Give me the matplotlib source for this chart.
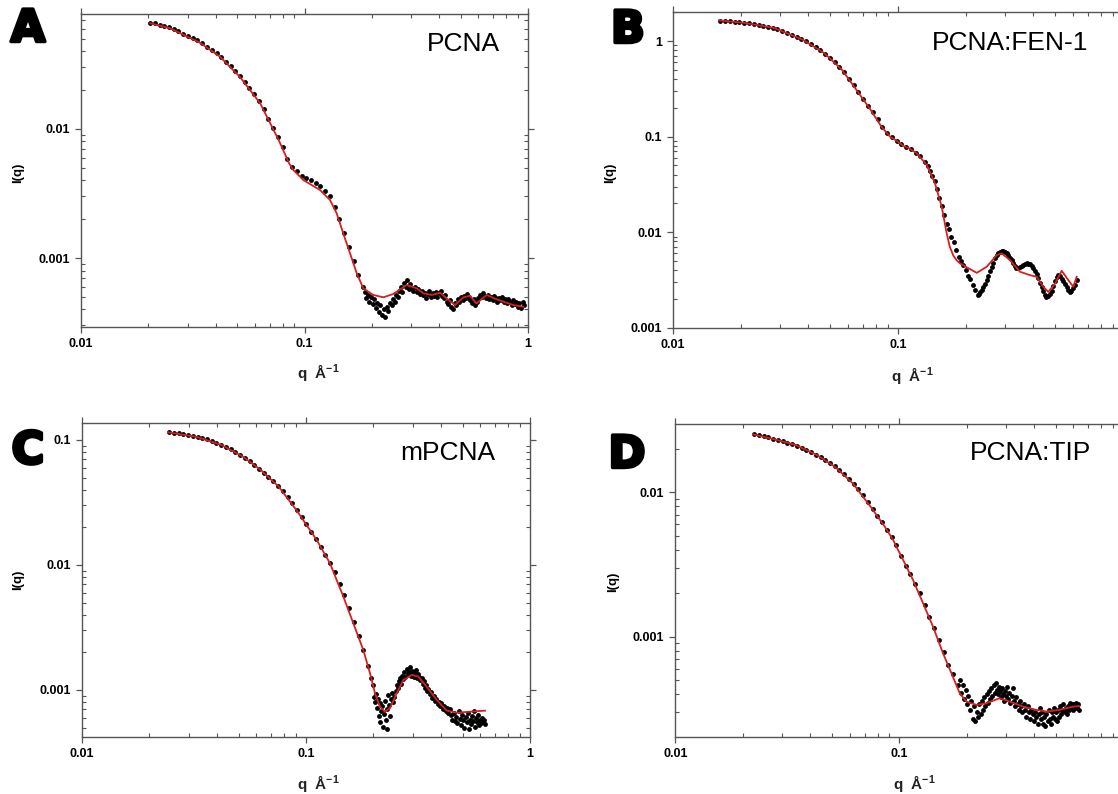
import numpy as np
import matplotlib
matplotlib.use("Agg")
import matplotlib.pyplot as plt
from matplotlib.ticker import LogLocator, FuncFormatter, NullFormatter
import matplotlib.patheffects as pe

plt.rcParams['font.family'] = ['Liberation Sans', 'DejaVu Sans']
plt.rcParams['mathtext.default'] = 'regular'

# ---------------- data ----------------
# panel A : PCNA
a_fit_q = [0.0204, 0.0250, 0.0341, 0.0419, 0.0514, 0.0632, 0.0766, 0.0852, 0.0891, 0.0955,
           0.0988, 0.1076, 0.1172, 0.130, 0.1393, 0.1491, 0.1598, 0.1713, 0.1833, 0.2033,
           0.2253, 0.2494, 0.2864, 0.3177, 0.340, 0.3707, 0.4036, 0.4325, 0.471, 0.5135,
           0.5495, 0.5885, 0.653, 0.7244, 0.859, 0.953]
a_fit_i = [0.0659, 0.0604, 0.0465, 0.0363, 0.0253, 0.0159, 0.00822, 0.00545, 0.00481, 0.00427,
           0.00402, 0.00368, 0.00337, 0.00282, 0.00222, 0.00155, 0.00109, 0.000761, 0.000582, 0.000517,
           0.000496, 0.000526, 0.000618, 0.000582, 0.000533, 0.000517, 0.000538, 0.000487, 0.000432, 0.000496,
           0.000510, 0.000445, 0.000517, 0.000478, 0.000432, 0.000419]
a_q = [0.0204, 0.0214, 0.0225, 0.0236, 0.0248, 0.026, 0.0273, 0.0287, 0.0301, 0.0316,
       0.0332, 0.0349, 0.0366, 0.0385, 0.0404, 0.0424, 0.0445, 0.0467, 0.049, 0.0515,
       0.054, 0.0567, 0.0596, 0.0626, 0.0657, 0.069, 0.0724, 0.076, 0.0798, 0.0838,
       0.088, 0.0924, 0.097, 0.1019, 0.107, 0.1123, 0.1179, 0.1238, 0.13, 0.1365,
       0.1433, 0.1505, 0.158, 0.1659, 0.1742, 0.1829,
       0.186, 0.189, 0.192, 0.195, 0.198, 0.2016, 0.205, 0.208, 0.2117, 0.215,
       0.218, 0.2223, 0.226, 0.229, 0.2334, 0.237, 0.241, 0.2451, 0.249, 0.253,
       0.2574, 0.261, 0.265, 0.2702, 0.274, 0.278, 0.2837, 0.288, 0.292, 0.2979,
       0.302, 0.307, 0.3128, 0.318, 0.323, 0.3285, 0.334, 0.339, 0.3449, 0.350,
       0.356, 0.3621, 0.368, 0.374, 0.3802, 0.386, 0.392, 0.3993, 0.406, 0.412,
       0.4192, 0.426, 0.433, 0.4402, 0.447, 0.454, 0.4622, 0.469, 0.477, 0.4853,
       0.493, 0.501, 0.5096, 0.518, 0.526, 0.5351, 0.544, 0.552, 0.5618, 0.571,
       0.580, 0.5899, 0.600, 0.609, 0.6194, 0.630, 0.640, 0.6504, 0.661, 0.672,
       0.6829, 0.694, 0.705, 0.7171, 0.729, 0.741, 0.7529, 0.765, 0.778, 0.7906,
       0.804, 0.817, 0.8301, 0.844, 0.858, 0.8716, 0.886, 0.900, 0.9152, 0.930,
       0.945, 0.955]
a_i = [0.0668, 0.0658, 0.0644, 0.0630, 0.0617, 0.0595, 0.0572, 0.0548, 0.0526, 0.0505,
       0.0485, 0.0461, 0.0435, 0.0410, 0.0387, 0.0362, 0.0333, 0.0306, 0.0281, 0.0257,
       0.0231, 0.0207, 0.0185, 0.0166, 0.0142, 0.0120, 0.0102, 0.0086, 0.0072, 0.0059,
       0.0051, 0.0047, 0.0043, 0.0042, 0.0040, 0.0038, 0.0036, 0.0033, 0.0030, 0.0025,
       0.0020, 0.00156, 0.00121, 0.00094, 0.00074, 0.00060,
       0.00055, 0.00049, 0.00052, 0.00046, 0.00050, 0.00044, 0.00048, 0.00041, 0.00045, 0.00038,
       0.00043, 0.00036, 0.00040, 0.00035, 0.00042, 0.00039, 0.00045, 0.00043, 0.00048, 0.00046,
       0.00052, 0.00050, 0.00056, 0.00060, 0.00055, 0.00064, 0.00060, 0.00067, 0.00058, 0.00063,
       0.00059, 0.00056, 0.00060, 0.00055, 0.00058, 0.00053, 0.00056, 0.00052, 0.00054, 0.00049,
       0.00053, 0.00056, 0.00050, 0.00054, 0.00051, 0.00055, 0.00050, 0.00054, 0.00056, 0.00051,
       0.00049, 0.00052, 0.00046, 0.00044, 0.00047, 0.00042, 0.00040, 0.00045, 0.00043, 0.00048,
       0.00046, 0.00050, 0.00047, 0.00051, 0.00049, 0.00053, 0.00050, 0.00047, 0.00045, 0.00048,
       0.00043, 0.00046, 0.00049, 0.00052, 0.00050, 0.00054, 0.00051, 0.00049, 0.00052, 0.00048,
       0.00050, 0.00047, 0.00051, 0.00049, 0.00046, 0.00049, 0.00047, 0.00050, 0.00046, 0.00048,
       0.00045, 0.00048, 0.00046, 0.00043, 0.00047, 0.00044, 0.00046, 0.00042, 0.00045, 0.00041,
       0.00046, 0.00043]

# panel B : PCNA:FEN-1
b_fit_q = [0.0160, 0.0210, 0.0282, 0.0378, 0.0470, 0.0564, 0.0653, 0.0756, 0.0844, 0.0921,
           0.1000, 0.1056, 0.1130, 0.1210, 0.1342, 0.1460, 0.1564, 0.1646, 0.1700, 0.1761,
           0.1820, 0.1887, 0.2053, 0.2238, 0.2479, 0.2747, 0.2890, 0.3145, 0.3486, 0.3860,
           0.4135, 0.4424, 0.4656, 0.4988, 0.5340, 0.5713, 0.6014, 0.6226]
b_fit_i = [1.644, 1.545, 1.369, 1.03, 0.749, 0.500, 0.309, 0.1905, 0.127, 0.100,
           0.0887, 0.0800, 0.0745, 0.0670, 0.0505, 0.0325, 0.0185, 0.0097, 0.0070, 0.0057,
           0.0051, 0.0047, 0.0042, 0.00375, 0.00434, 0.00575, 0.0060, 0.0051, 0.00385, 0.00355,
           0.00341, 0.00268, 0.00237, 0.0029, 0.00394, 0.00315, 0.00268, 0.00341]
b_q = [0.0162, 0.0170, 0.0179, 0.0188, 0.0197, 0.0207, 0.0217, 0.0228, 0.0240, 0.0252,
       0.0264, 0.0277, 0.0291, 0.0306, 0.0321, 0.0337, 0.0354, 0.0372, 0.0390, 0.0410,
       0.0430, 0.0452, 0.0474, 0.0498, 0.0523, 0.0549, 0.0576, 0.0605, 0.0635, 0.0667,
       0.0700, 0.0735, 0.0772, 0.0811, 0.0851, 0.0894, 0.0938, 0.0985, 0.1035, 0.1086,
       0.1141, 0.1198, 0.1258, 0.1321, 0.1354, 0.1387, 0.1421, 0.1456, 0.1492, 0.1529,
       0.1567, 0.1605, 0.1645, 0.1685, 0.1727, 0.1770, 0.1813, 0.1858, 0.1904, 0.1951,
       0.2000, 0.2049, 0.2100, 0.2151, 0.2205, 0.2259,
       0.2290, 0.2320, 0.2355, 0.2390, 0.2430, 0.2479, 0.2520, 0.2565, 0.2610, 0.2655,
       0.2700, 0.2747, 0.2795, 0.2840, 0.2890, 0.2940, 0.2990, 0.3040, 0.3090, 0.3145,
       0.3200, 0.3250, 0.3300, 0.3360, 0.3420, 0.3480, 0.3546, 0.3610, 0.3670, 0.3733,
       0.3800, 0.3865, 0.3930, 0.4000, 0.4065, 0.4135, 0.4205, 0.4280, 0.4350, 0.4420,
       0.4490, 0.4570, 0.4650, 0.4730, 0.4820, 0.4900, 0.4990, 0.5075, 0.5160, 0.5250,
       0.5340, 0.5430, 0.5520, 0.5620, 0.5710, 0.5800, 0.5900, 0.6010, 0.6120, 0.6226]
b_i = [1.64, 1.63, 1.61, 1.59, 1.57, 1.55, 1.53, 1.50, 1.47, 1.44,
       1.41, 1.38, 1.34, 1.28, 1.22, 1.16, 1.10, 1.05, 0.99, 0.93,
       0.87, 0.80, 0.74, 0.67, 0.60, 0.535, 0.47, 0.405, 0.345, 0.29,
       0.248, 0.21, 0.18, 0.152, 0.126, 0.110, 0.098, 0.090, 0.083, 0.078,
       0.0735, 0.068, 0.062, 0.054, 0.049, 0.044, 0.039, 0.034, 0.0285, 0.023,
       0.019, 0.0150, 0.0122, 0.0108, 0.0088, 0.0079, 0.0065, 0.0055, 0.0050, 0.0045,
       0.0040, 0.0035, 0.0032, 0.0028, 0.0025, 0.0022,
       0.00225, 0.00238, 0.00247, 0.00265, 0.00290, 0.00315, 0.00350, 0.00392, 0.00434, 0.00480,
       0.00530, 0.00575, 0.00605, 0.00625, 0.00634, 0.00628, 0.00615, 0.00600, 0.00575, 0.00540,
       0.00510, 0.00475, 0.00440, 0.00418, 0.00420, 0.00428, 0.00440, 0.00458, 0.00468, 0.00471,
       0.00468, 0.00460, 0.00445, 0.00420, 0.00395, 0.00365, 0.00330, 0.00295, 0.00268, 0.00240,
       0.00222, 0.00210, 0.00215, 0.00225, 0.00240, 0.00275, 0.00310, 0.00341, 0.00352, 0.00350,
       0.00325, 0.00305, 0.00288, 0.00265, 0.00250, 0.00237, 0.00245, 0.00262, 0.00279, 0.00315]

# panel C : mPCNA
c_fit_q = [0.0242, 0.0324, 0.0419, 0.0523, 0.0628, 0.0755, 0.0906, 0.1116, 0.128, 0.1468,
           0.1626, 0.1802, 0.1931, 0.2033, 0.2140, 0.2253, 0.2370, 0.2540, 0.2720, 0.2965,
           0.3170, 0.3460, 0.3833, 0.4249, 0.4710, 0.5400, 0.6300]
c_fit_i = [0.1152, 0.106, 0.0912, 0.0735, 0.0575, 0.0423, 0.0275, 0.01585, 0.0103, 0.00558,
           0.00342, 0.00209, 0.00136, 0.00094, 0.000735, 0.00067, 0.000714, 0.00094, 0.0012, 0.00132,
           0.00128, 0.00106, 0.000832, 0.000683, 0.000658, 0.00067, 0.000683]
c_q = [0.0245, 0.0257, 0.0270, 0.0283, 0.0297, 0.0312, 0.0328, 0.0344, 0.0361, 0.0379,
       0.0398, 0.0418, 0.0439, 0.0461, 0.0484, 0.0508, 0.0533, 0.0560, 0.0588, 0.0617,
       0.0648, 0.0680, 0.0714, 0.0750, 0.0788, 0.0827, 0.0868, 0.0912, 0.0957, 0.1005,
       0.1055, 0.1108, 0.1163, 0.1221, 0.1282, 0.1346, 0.1413, 0.1484, 0.1558, 0.1636,
       0.1718, 0.1804, 0.1894, 0.1989,
       0.1960, 0.2010, 0.2030, 0.2050, 0.2070, 0.2090, 0.2110, 0.2130, 0.2150, 0.2170,
       0.2190, 0.2210, 0.2230, 0.2250, 0.2270, 0.2290, 0.2310, 0.2330, 0.2350, 0.2375,
       0.2400, 0.2425, 0.2450, 0.2480, 0.2510, 0.2540, 0.2570, 0.2600, 0.2630, 0.2660,
       0.2690, 0.2720, 0.2750, 0.2780, 0.2810, 0.2840, 0.2870, 0.2900, 0.2930, 0.2960,
       0.2990, 0.3020, 0.3050, 0.3080, 0.3110, 0.3140, 0.3170, 0.3200, 0.3240, 0.3280,
       0.3320, 0.3360, 0.3400, 0.3440, 0.3480, 0.3520, 0.3570, 0.3620, 0.3670, 0.3720,
       0.3770, 0.3820, 0.3870, 0.3920, 0.3970, 0.4020, 0.4080, 0.4140, 0.4200, 0.4260,
       0.4320, 0.4380, 0.4440, 0.4500, 0.4560, 0.4620, 0.4680, 0.4740, 0.4800, 0.4860,
       0.4920, 0.4980, 0.5040, 0.5100, 0.5160, 0.5220, 0.5280, 0.5340, 0.5400, 0.5460,
       0.5520, 0.5580, 0.5640, 0.5700, 0.5760, 0.5820, 0.5880, 0.5940, 0.6000, 0.6060,
       0.6120, 0.6180, 0.6240, 0.6300]
c_i = [0.1155, 0.1145, 0.1130, 0.1118, 0.1100, 0.1080, 0.1058, 0.1035, 0.1010, 0.0983,
       0.0952, 0.0915, 0.0880, 0.0840, 0.0800, 0.0757, 0.0718, 0.0675, 0.0632, 0.0590,
       0.0548, 0.0508, 0.0467, 0.0428, 0.0388, 0.0350, 0.0312, 0.0275, 0.0242, 0.0212,
       0.0185, 0.0160, 0.0138, 0.0120, 0.0103, 0.0088, 0.0071, 0.0057, 0.0045, 0.0035,
       0.0027, 0.0021, 0.00155, 0.00110,
       0.00125, 0.00088, 0.00080, 0.00092, 0.00072, 0.00085, 0.00062, 0.00078, 0.00055, 0.00068,
       0.00074, 0.00051, 0.00064, 0.00082, 0.00058, 0.00049, 0.00070, 0.00091, 0.00076, 0.00062,
       0.00085, 0.00094, 0.00080, 0.00088, 0.00098, 0.00110, 0.00104, 0.00118, 0.00125, 0.00112,
       0.00130, 0.00122, 0.00138, 0.00127, 0.00148, 0.00134, 0.00140, 0.00153, 0.00129, 0.00143,
       0.00135, 0.00126, 0.00138, 0.00130, 0.00145, 0.00124, 0.00133, 0.00127, 0.00120, 0.00125,
       0.00112, 0.00117, 0.00104, 0.00110, 0.00098, 0.00102, 0.00092, 0.00096, 0.00086, 0.00090,
       0.00081, 0.00085, 0.00077, 0.00080, 0.00074, 0.00078, 0.00071, 0.00075, 0.00068, 0.00072,
       0.00066, 0.00070, 0.00063, 0.00058, 0.00066, 0.00056, 0.00061, 0.00054, 0.00068, 0.00059,
       0.00052, 0.00063, 0.00057, 0.00050, 0.00061, 0.00055, 0.00066, 0.00049, 0.00058, 0.00053,
       0.00062, 0.00056, 0.00068, 0.00051, 0.00060, 0.00055, 0.00063, 0.00052, 0.00058, 0.00054,
       0.00060, 0.00055, 0.00057, 0.00053]

# panel D : PCNA:TIP
d_fit_q = [0.0222, 0.0276, 0.0344, 0.0429, 0.0516, 0.0620, 0.0745, 0.0862, 0.0939, 0.1041,
           0.1153, 0.1279, 0.1417, 0.1570, 0.1712, 0.1865, 0.1998, 0.2214, 0.2453, 0.2812,
           0.3117, 0.3574, 0.4100, 0.4547, 0.5210, 0.5980, 0.6400]
d_fit_i = [0.0252, 0.0233, 0.02127, 0.0181, 0.01503, 0.01154, 0.00795, 0.00578, 0.00468, 0.0034,
           0.00247, 0.0017, 0.00117, 0.000767, 0.000558, 0.000405, 0.000355, 0.000337, 0.000346, 0.000375,
           0.000355, 0.000328, 0.000311, 0.000303, 0.000311, 0.000328, 0.000331]
d_q = [0.0225, 0.0236, 0.0248, 0.0260, 0.0273, 0.0287, 0.0301, 0.0316, 0.0332, 0.0349,
       0.0366, 0.0385, 0.0404, 0.0424, 0.0445, 0.0467, 0.0490, 0.0515, 0.0540, 0.0567,
       0.0596, 0.0626, 0.0657, 0.0690, 0.0724, 0.0760, 0.0798, 0.0838, 0.0880, 0.0924,
       0.0970, 0.1019, 0.1070, 0.1123, 0.1179, 0.1238, 0.1300, 0.1365, 0.1433, 0.1505,
       0.1580, 0.1659, 0.1742, 0.1829,
       0.1860, 0.1890, 0.1920, 0.1950, 0.1980, 0.2010, 0.2040, 0.2070, 0.2100, 0.2130,
       0.2160, 0.2190, 0.2220, 0.2250, 0.2280, 0.2310, 0.2340, 0.2370, 0.2400, 0.2430,
       0.2460, 0.2490, 0.2520, 0.2550, 0.2580, 0.2610, 0.2640, 0.2670, 0.2700, 0.2730,
       0.2760, 0.2790, 0.2820, 0.2850, 0.2880, 0.2910, 0.2940, 0.2970, 0.3000, 0.3030,
       0.3060, 0.3100, 0.3140, 0.3180, 0.3220, 0.3260, 0.3300, 0.3340, 0.3380, 0.3420,
       0.3460, 0.3500, 0.3550, 0.3600, 0.3650, 0.3700, 0.3750, 0.3800, 0.3850, 0.3900,
       0.3950, 0.4000, 0.4050, 0.4100, 0.4150, 0.4200, 0.4250, 0.4300, 0.4350, 0.4400,
       0.4450, 0.4500, 0.4550, 0.4600, 0.4650, 0.4700, 0.4750, 0.4800, 0.4850, 0.4900,
       0.4950, 0.5000, 0.5060, 0.5120, 0.5180, 0.5240, 0.5300, 0.5360, 0.5420, 0.5480,
       0.5540, 0.5600, 0.5660, 0.5720, 0.5780, 0.5840, 0.5900, 0.5960, 0.6020, 0.6080,
       0.6140, 0.6200, 0.6260, 0.6320, 0.6380]
d_i = [0.0253, 0.0250, 0.0245, 0.0240, 0.0235, 0.0230, 0.0225, 0.0220, 0.0215, 0.0210,
       0.0204, 0.0197, 0.0190, 0.0182, 0.0175, 0.0167, 0.0159, 0.0151, 0.0142, 0.0133,
       0.0124, 0.0114, 0.0105, 0.0096, 0.0086, 0.0077, 0.0069, 0.0062, 0.0055, 0.0049,
       0.0043, 0.0036, 0.0031, 0.0027, 0.0023, 0.0020, 0.00165, 0.00136, 0.00115, 0.00095,
       0.00078, 0.00064, 0.00055, 0.00046,
       0.00050, 0.00041, 0.00046, 0.00037, 0.00043, 0.00034, 0.00039, 0.00031, 0.00036, 0.00027,
       0.00033, 0.00026, 0.00030, 0.00028, 0.00034, 0.00029, 0.00036, 0.00031, 0.00038, 0.00033,
       0.00040, 0.00035, 0.00042, 0.00037, 0.00044, 0.00039, 0.00046, 0.00041, 0.00048, 0.00043,
       0.00040, 0.00045, 0.00042, 0.00038, 0.00044, 0.00040, 0.00036, 0.00042, 0.00039, 0.00045,
       0.00037, 0.00041, 0.00035, 0.00039, 0.00044, 0.00036, 0.00033, 0.00038, 0.00034, 0.00031,
       0.00036, 0.00033, 0.00030, 0.00034, 0.00031, 0.00028, 0.00033, 0.00030, 0.00027, 0.00031,
       0.00029, 0.00026, 0.00030, 0.00028, 0.00025, 0.00029, 0.00032, 0.00027, 0.00030, 0.00025,
       0.00028, 0.00024, 0.00029, 0.00026, 0.00031, 0.00027, 0.00025, 0.00030, 0.00028, 0.00032,
       0.00027, 0.00030, 0.00026, 0.00031, 0.00028, 0.00033, 0.00029, 0.00031, 0.00034, 0.00030,
       0.00032, 0.00029, 0.00033, 0.00031, 0.00035, 0.00032, 0.00034, 0.00031, 0.00034, 0.00032,
       0.00035, 0.00033, 0.00032, 0.00034, 0.00031]

panel_letters = ['A', 'B', 'C', 'D']
panel_names = ['PCNA', 'PCNA:FEN-1', 'mPCNA', 'PCNA:TIP']

# ---------------- layout (pixels of a 1118x794 canvas) ----------------
W, H = 1118, 794
fig = plt.figure(figsize=(W / 100, H / 100), dpi=100)

def px_axes(x0, x1, y0, y1):
    return fig.add_axes([x0 / W, 1 - y1 / H, (x1 - x0) / W, (y1 - y0) / H])

# panels B and D run past the right edge of the picture, so their "1" is not shown
panels = [
    dict(box=(81, 528, 13.5, 327), ylim=(0.000292, 0.0785), q=a_q, i=a_i, fq=a_fit_q, fi=a_fit_i,
         letter=(28, 29), name=(463, 44), ylab=(18, 173), xlab=(318, 373), xmax_label=1),
    dict(box=(673, 1123, 12.3, 327.7), ylim=(0.001, 2.0), q=b_q, i=b_i, fq=b_fit_q, fi=b_fit_i,
         letter=(628, 30), name=(1010, 43), ylab=(610, 173), xlab=(912, 375), xmax_label=0.1),
    dict(box=(82, 530, 422.7, 737.3), ylim=(0.000418, 0.1374), q=c_q, i=c_i, fq=c_fit_q, fi=c_fit_i,
         letter=(28, 451), name=(448, 453), ylab=(18, 580), xlab=(318, 783), xmax_label=1),
    dict(box=(675.4, 1123, 424, 737.3), ylim=(0.000201, 0.0297), q=d_q, i=d_i, fq=d_fit_q, fi=d_fit_i,
         letter=(627, 455), name=(1031, 453), ylab=(613, 582), xlab=(914, 783), xmax_label=0.1),
]

spine_col = '#555555'
yfmt = FuncFormatter(lambda v, p: '%g' % v)

for k, p in enumerate(panels):
    ax = px_axes(*p['box'])
    ax.set_xscale('log')
    ax.set_yscale('log')

    # data points then fitted curve
    ax.plot(p['q'], p['i'], 'o', color='black', markersize=3.5, markeredgewidth=0, zorder=2)
    ax.plot(p['fq'], p['fi'], '-', color='#d61f1f', linewidth=1.3, zorder=3)

    ax.set_xlim(0.01, 1)
    ax.set_ylim(*p['ylim'])

    xm = p['xmax_label']
    xfmt = FuncFormatter(lambda v, pos, xm=xm: ('%g' % v) if v <= xm * 1.001 else '')

    for axis, f in ((ax.xaxis, xfmt), (ax.yaxis, yfmt)):
        axis.set_major_locator(LogLocator(base=10, numticks=10))
        axis.set_minor_locator(LogLocator(base=10, subs=np.arange(2, 10), numticks=20))
        axis.set_major_formatter(f)
        axis.set_minor_formatter(NullFormatter())

    ax.tick_params(which='major', direction='out', length=4, width=0.9, color=spine_col,
                   top=True, right=True, labelsize=9, pad=4)
    ax.tick_params(which='minor', direction='in', length=3, width=0.8, color=spine_col,
                   top=True, right=True)
    for lab in ax.get_xticklabels() + ax.get_yticklabels():
        lab.set_fontweight('bold')
    for s in ax.spines.values():
        s.set_color(spine_col)
        s.set_linewidth(1.0)

    # texts
    lx, ly = p['letter']
    fig.text(lx / W, 1 - ly / H, panel_letters[k], fontsize=32, fontweight='bold',
             family='DejaVu Sans', ha='center', va='center',
             path_effects=[pe.withStroke(linewidth=2.5, foreground='black')])
    nx, ny = p['name']
    fig.text(nx / W, 1 - ny / H, panel_names[k], fontsize=19, ha='center', va='center')
    yx, yy = p['ylab']
    fig.text(yx / W, 1 - yy / H, 'I(q)', fontsize=9.5, fontweight='bold', rotation=90,
             ha='center', va='center')
    xx, xy = p['xlab']
    fig.text(xx / W, 1 - xy / H, 'q  Å$^{-1}$', fontsize=11, fontweight='bold',
             ha='center', va='center', color='#222222')

fig.savefig('out.png', dpi=100)
